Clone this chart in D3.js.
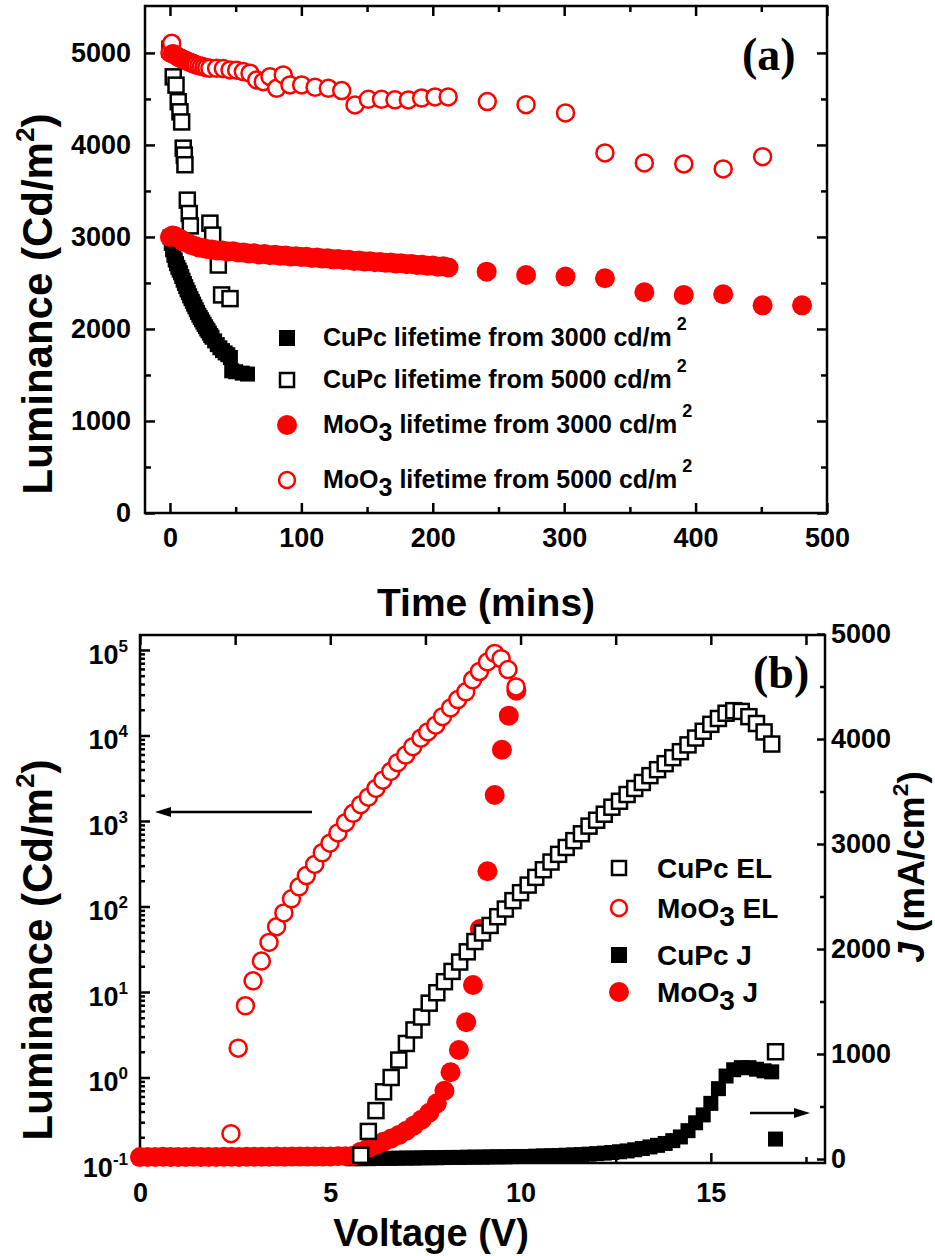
<!DOCTYPE html>
<html>
<head>
<meta charset="utf-8">
<script src="https://cdn.jsdelivr.net/npm/d3@7"></script>
<style>
    body { margin: 0; background: #fff; }
    text { font-family: "Liberation Sans", Arial, sans-serif; font-weight: bold; fill: #000; }
</style>
</head>
<body>
<svg id="chart" width="935" height="1256"></svg>
<script>
// ---------- panel (a): lifetime data ----------
let cupc3000Time = [0,1,2,3,4,5,6,7,8,9,10,11,12,13,14,15,16,17,18,19,20,21,22,23,24,25,26,27,28,29,30,31,32,34,36,38,40,42,44,46,47,50,55,59];
let cupc3000Lum  = [3000,2930,2860,2800,2750,2710,2670,2640,2610,2570,2530,2495,2460,2425,2395,2360,2330,2300,2270,2240,2210,2180,2150,2125,2100,2075,2050,2025,2000,1980,1955,1930,1910,1870,1830,1795,1765,1740,1720,1690,1545,1535,1520,1510];

let cupc5000Time = [0,1.3,2.5,4.6,6.3,7.6,8.9,10.1,10.9,11.4,13.2,14.7,15.5,30.4,32.5,36.8,39.3,45.7];
let cupc5000Lum  = [5040,5050,4740,4650,4470,4360,4250,3965,3890,3785,3400,3255,3120,3150,3020,2695,2370,2330];

let moo3000Time = [0,2,4,6,8,10,13,16,19,22,25,28,32,36,40,44,48,52,56,60,64,68,72,76,80,84,88,92,96,100,104,108,112,116,120,124,128,132,136,140,144,148,152,156,160,164,168,172,176,180,184,188,192,196,200,204,208,212,241,271,301,331,361,391,421,451,481];
let moo3000Lum  = [3000,3015,3008,2992,2976,2952,2938,2912,2903,2885,2880,2868,2865,2852,2853,2841,2846,2832,2830,2821,2824,2810,2815,2802,2806,2795,2798,2787,2790,2781,2784,2772,2776,2765,2768,2757,2760,2749,2752,2740,2744,2733,2737,2726,2729,2719,2722,2711,2714,2703,2706,2694,2698,2686,2690,2677,2681,2668,2623,2587,2569,2551,2399,2370,2377,2257,2257];

let moo5000Time = [0,1.3,2,3,4,5,6,7,8,9,10,11,12,13,14,15,16,17,18,19,20,22,24,26,28,30.4,35.5,40.6,45.7,50.7,55.8,60.9,66,71,76.1,81.2,86.2,91.3,100.2,110.4,120.5,130.7,140.8,150.9,161,171.2,181.4,191.5,201.7,211.7,241.5,271,301,331,361,391,421,451];
let moo5000Lum  = [5000,5105,4992,4985,4975,4968,4958,4950,4944,4936,4930,4924,4918,4912,4905,4900,4894,4888,4882,4877,4870,4862,4855,4848,4840,4833,4833,4830,4815,4812,4797,4779,4706,4688,4742,4616,4761,4652,4652,4627,4616,4591,4435,4496,4496,4490,4489,4510,4522,4522,4471,4438,4348,3913,3804,3793,3739,3873];

// ---------- panel (b): J-V-L data ----------
let cupcElVolt = [5.8,6.0,6.2,6.4,6.6,6.8,7.0,7.2,7.4,7.6,7.8,8.0,8.2,8.4,8.6,8.8,9.0,9.2,9.4,9.6,9.8,10.0,10.2,10.4,10.6,10.8,11.0,11.2,11.4,11.6,11.8,12.0,12.2,12.4,12.6,12.8,13.0,13.2,13.4,13.6,13.8,14.0,14.2,14.4,14.6,14.8,15.0,15.2,15.4,15.6,15.8,16.0,16.2,16.4,16.6,16.7];
let cupcElLum  = [0.123,0.234,0.41,0.68,1.0,1.6,2.5,3.6,5.1,7.4,9.8,13.2,17.4,22.4,29.5,38.9,49,60,75.9,93.3,117,145,178,219,269,331,407,490,589,708,871,1020,1200,1450,1700,2040,2400,2820,3390,3980,4680,5500,6460,7760,9330,11200,13500,15800,18200,19500,19100,16600,13800,11000,7940,2.0];

let mooElVolt = [2.39,2.58,2.77,2.97,3.19,3.39,3.59,3.78,3.98,4.18,4.37,4.59,4.79,4.99,5.2,5.4,5.6,5.8,6.0,6.2,6.38,6.59,6.77,6.98,7.17,7.38,7.56,7.77,7.95,8.16,8.35,8.56,8.74,8.92,9.13,9.32,9.49,9.67,9.88];
let mooElLum  = [0.22,2.2,6.9,13.5,23,38,58,84,123,170,230,310,425,550,725,955,1230,1550,1900,2400,3000,3800,4800,5900,7400,9300,11000,13200,16600,21000,26300,32400,44700,56000,72400,91000,79000,59000,37000];

let cupcJVolt = [5.6,5.8,6.0,6.2,6.4,6.6,6.8,7.0,7.2,7.4,7.6,7.8,8.0,8.2,8.4,8.6,8.8,9.0,9.2,9.4,9.6,9.8,10.0,10.2,10.4,10.6,10.8,11.0,11.2,11.4,11.6,11.8,12.0,12.2,12.4,12.6,12.8,13.0,13.2,13.4,13.6,13.8,14.0,14.2,14.4,14.6,14.8,15.0,15.2,15.4,15.6,15.8,16.0,16.2,16.4,16.6,16.7];
let cupcJ     = [2,4,3,5,6,6,8,9,9,11,12,12,14,15,15,17,18,18,20,21,21,23,24,24,27,29,31,33,36,39,42,46,51,56,62,69,77,88,100,115,130,148,175,210,270,345,420,530,670,790,850,870,870,855,840,830,190];

let mooJVolt = [0,0.2,0.4,0.6,0.8,1.0,1.2,1.4,1.6,1.8,2.0,2.2,2.4,2.6,2.8,3.0,3.2,3.4,3.6,3.8,4.0,4.2,4.4,4.6,4.8,5.0,5.2,5.4,5.6,5.8,6.0,6.2,6.4,6.6,6.8,7.0,7.2,7.4,7.6,7.8,8.0,8.16,8.38,8.57,8.75,8.93,9.13,9.32,9.51,9.69,9.89];
let mooJ     = [18,20,19,21,20,19,20,21,20,19,20,21,22,20,21,22,21,22,23,22,23,24,23,24,25,24,26,27,30,70,105,135,165,195,228,270,320,375,440,530,650,826,1038,1302,1657,2190,2740,3467,3898,4222,4460];

// ---------- ticks and labels ----------
let timeTicks = [0,100,200,300,400,500];
let timeMinor = [50,150,250,350,450];
let lumTicks = [0,1000,2000,3000,4000,5000];
let lumMinor = [500,1500,2500,3500,4500];
let voltTicks = [0,5,10,15];
let voltMinor = [2.5,7.5,12.5,17.5];
let logTicks = [1e-1,1e0,1e1,1e2,1e3,1e4,1e5];
let jTicks = [0,1000,2000,3000,4000,5000];
let jMinor = [500,1500,2500,3500,4500];

let legendA = [
    {pre: "CuPc", sub: "", post: " lifetime from 3000 cd/m"},
    {pre: "CuPc", sub: "", post: " lifetime from 5000 cd/m"},
    {pre: "MoO", sub: "3", post: " lifetime from 3000 cd/m"},
    {pre: "MoO", sub: "3", post: " lifetime from 5000 cd/m"}
];
let legendB = [
    {pre: "CuPc", sub: "", post: " EL"},
    {pre: "MoO", sub: "3", post: " EL"},
    {pre: "CuPc", sub: "", post: " J"},
    {pre: "MoO", sub: "3", post: " J"}
];

const RED = "#ff0000";
let plain = d3.format("d");
let svg = d3.select("#chart");
svg.append("rect").attr("width", 935).attr("height", 1256).attr("fill", "#fff");

// markers
function drawSquares(g, xs, ys, xS, yS, size, filled) {
    g.append("g").selectAll("rect")
        .data(d3.zip(xs, ys))
        .join("rect")
        .attr("x", d => xS(d[0]) - size / 2)
        .attr("y", d => yS(d[1]) - size / 2)
        .attr("width", size)
        .attr("height", size)
        .attr("fill", filled ? "#000" : "#fff")
        .attr("stroke", filled ? "none" : "#000")
        .attr("stroke-width", 2.5);
}

function drawCircles(g, xs, ys, xS, yS, r, filled) {
    g.append("g").selectAll("circle")
        .data(d3.zip(xs, ys))
        .join("circle")
        .attr("cx", d => xS(d[0]))
        .attr("cy", d => yS(d[1]))
        .attr("r", r)
        .attr("fill", filled ? RED : "#fff")
        .attr("stroke", filled ? "none" : RED)
        .attr("stroke-width", 2.5);
}

function legendMarker(g, kind, x, y) {
    if (kind === "fsq") g.append("rect").attr("x", x - 8).attr("y", y - 8).attr("width", 16).attr("height", 16).attr("fill", "#000");
    if (kind === "osq") g.append("rect").attr("x", x - 7).attr("y", y - 7).attr("width", 14).attr("height", 14)
        .attr("fill", "#fff").attr("stroke", "#000").attr("stroke-width", 2.5);
    if (kind === "fci") g.append("circle").attr("cx", x).attr("cy", y).attr("r", 10).attr("fill", RED);
    if (kind === "oci") g.append("circle").attr("cx", x).attr("cy", y).attr("r", 8).attr("fill", "#fff")
        .attr("stroke", RED).attr("stroke-width", 2.5);
}

function styleAxis(a, size) {
    a.attr("font-size", size).attr("font-family", null);
    a.select(".domain").remove();
    a.selectAll("line").attr("stroke", "#000").attr("stroke-width", 2.5);
    return a;
}

function addAxis(g, axis, tx, ty, size) {
    let a = g.append("g").attr("transform", "translate(" + tx + "," + ty + ")").call(axis);
    return styleAxis(a, size || 27);
}

function frame(g, box) {
    g.append("rect")
        .attr("x", box.left).attr("y", box.top)
        .attr("width", box.right - box.left).attr("height", box.bottom - box.top)
        .attr("fill", "none").attr("stroke", "#000").attr("stroke-width", 2.5);
}

function richText(g, x, y, size, parts, supText) {
    let t = g.append("text").attr("x", x).attr("y", y).attr("font-size", size);
    t.append("tspan").text(parts.pre);
    if (parts.sub) {
        t.append("tspan").attr("dy", 8).text(parts.sub);
        t.append("tspan").attr("dy", -8).text(parts.post);
    } else {
        t.append("tspan").text(parts.post);
    }
    if (supText) t.append("tspan").attr("dx", 5).attr("dy", -16).attr("font-size", 18).text(supText);
    return t;
}

function rotatedTitle(g, x, y, size, pre, italicPre) {
    let t = g.append("text")
        .attr("transform", "translate(" + x + "," + y + ") rotate(-90)")
        .attr("text-anchor", "middle")
        .attr("font-size", size);
    if (italicPre) t.append("tspan").attr("font-style", "italic").text(italicPre);
    t.append("tspan").text(pre);
    t.append("tspan").attr("dy", -size * 0.42).attr("font-size", size * 0.62).text("2");
    t.append("tspan").attr("dy", size * 0.42).text(")");
    return t;
}

// ================= panel (a) =================
let boxA = {left: 145, right: 827, top: 6, bottom: 513};
let xA = d3.scaleLinear().domain([-19, 500]).range([boxA.left, boxA.right]);
let yA = d3.scaleLinear().domain([0, 5510]).range([boxA.bottom, boxA.top]);
let gA = svg.append("g");

addAxis(gA, d3.axisBottom(xA).tickValues(timeTicks).tickSize(-10).tickPadding(15).tickFormat(plain), 0, boxA.bottom);
addAxis(gA, d3.axisBottom(xA).tickValues(timeMinor).tickSize(-6).tickFormat(""), 0, boxA.bottom);
addAxis(gA, d3.axisTop(xA).tickValues(timeTicks).tickSize(-10).tickFormat(""), 0, boxA.top);
addAxis(gA, d3.axisTop(xA).tickValues(timeMinor).tickSize(-6).tickFormat(""), 0, boxA.top);
addAxis(gA, d3.axisLeft(yA).tickValues(lumTicks).tickSize(-10).tickPadding(14).tickFormat(plain), boxA.left, 0);
addAxis(gA, d3.axisLeft(yA).tickValues(lumMinor).tickSize(-6).tickFormat(""), boxA.left, 0);
addAxis(gA, d3.axisRight(yA).tickValues(lumTicks).tickSize(-10).tickFormat(""), boxA.right, 0);
addAxis(gA, d3.axisRight(yA).tickValues(lumMinor).tickSize(-6).tickFormat(""), boxA.right, 0);
frame(gA, boxA);

drawSquares(gA, cupc3000Time, cupc3000Lum, xA, yA, 15, true);
drawSquares(gA, cupc5000Time, cupc5000Lum, xA, yA, 15, false);
drawCircles(gA, moo3000Time, moo3000Lum, xA, yA, 10, true);
drawCircles(gA, moo5000Time, moo5000Lum, xA, yA, 8.5, false);

let legARows = [338, 380, 425, 480];
let legAKinds = ["fsq", "osq", "fci", "oci"];
legendA.forEach((item, i) => {
    legendMarker(gA, legAKinds[i], 287, legARows[i]);
    richText(gA, 323, legARows[i] + 8, 25, item, "2");
});

gA.append("text").attr("x", 742).attr("y", 70)
    .style("font-family", "'Liberation Serif', 'Times New Roman', serif")
    .attr("font-size", 46).text("(a)");

gA.append("text").attr("x", 486).attr("y", 616).attr("text-anchor", "middle")
    .attr("font-size", 39).text("Time (mins)");
rotatedTitle(gA, 52, 304, 42, "Luminance (Cd/m");

// ================= panel (b) =================
let boxB = {left: 140, right: 825, top: 635, bottom: 1163};
let xB = d3.scaleLinear().domain([0, 18]).range([boxB.left, boxB.right]);
let yB = d3.scaleLog().domain([1e-1, Math.pow(10, 5.175)]).range([boxB.bottom, boxB.top]);
let yJ = d3.scaleLinear().domain([0, 5000]).range([1159, 634]);
let gB = svg.append("g");

let logMinor = [];
logTicks.slice(0, -1).forEach(v => {
    [2,3,4,5,6,7,8,9].forEach(k => logMinor.push(v * k));
});
logMinor.push(1e5 * 1.2, 1e5 * 1.4);
logMinor = logMinor.filter(v => v < yB.domain()[1] && v !== 1.2e5 && v !== 1.4e5);

addAxis(gB, d3.axisBottom(xB).tickValues(voltTicks).tickSize(-10).tickPadding(20).tickFormat(plain), 0, boxB.bottom);
addAxis(gB, d3.axisBottom(xB).tickValues(voltMinor).tickSize(-6).tickFormat(""), 0, boxB.bottom);
addAxis(gB, d3.axisTop(xB).tickValues(voltTicks).tickSize(-10).tickFormat(""), 0, boxB.top);
addAxis(gB, d3.axisTop(xB).tickValues(voltMinor).tickSize(-10).tickFormat(""), 0, boxB.top);
let leftB = addAxis(gB, d3.axisLeft(yB).tickValues(logTicks).tickSize(-10).tickPadding(12).tickFormat(() => ""), boxB.left, 0);
addAxis(gB, d3.axisLeft(yB).tickValues(logMinor).tickSize(-5).tickFormat(""), boxB.left, 0);
addAxis(gB, d3.axisRight(yJ).tickValues(jTicks).tickSize(-8).tickPadding(6).tickFormat(plain), boxB.right, 0);
addAxis(gB, d3.axisRight(yJ).tickValues(jMinor).tickSize(-5).tickFormat(""), boxB.right, 0);
frame(gB, boxB);

leftB.selectAll(".tick text").each(function(d) {
    let t = d3.select(this).attr("dy", "0.5em");
    t.append("tspan").text("10");
    t.append("tspan").attr("dy", -12).attr("font-size", 17).text(Math.round(Math.log10(d)));
});

drawSquares(gB, cupcJVolt, cupcJ, xB, yJ, 15, true);
drawCircles(gB, mooJVolt, mooJ, xB, yJ, 10, true);
drawSquares(gB, cupcElVolt, cupcElLum, xB, yB, 15, false);
drawCircles(gB, mooElVolt, mooElLum, xB, yB, 8.5, false);

let legBRows = [868, 908, 955, 992];
let legBKinds = ["osq", "oci", "fsq", "fci"];
legendB.forEach((item, i) => {
    legendMarker(gB, legBKinds[i], 619, legBRows[i]);
    richText(gB, 657, legBRows[i] + 10, 28, item, null);
});

// arrows pointing to each axis
function arrow(g, x1, x2, y) {
    let dir = x2 > x1 ? 1 : -1;
    g.append("line").attr("x1", x1).attr("x2", x2 - dir * 10).attr("y1", y).attr("y2", y)
        .attr("stroke", "#000").attr("stroke-width", 2.5);
    g.append("path")
        .attr("d", "M" + x2 + "," + y + " L" + (x2 - dir * 16) + "," + (y - 5) + " L" + (x2 - dir * 16) + "," + (y + 5) + " Z")
        .attr("fill", "#000");
}
arrow(gB, 312, 155, 812);
arrow(gB, 750, 810, 1113);

gB.append("text").attr("x", 753).attr("y", 688)
    .style("font-family", "'Liberation Serif', 'Times New Roman', serif")
    .attr("font-size", 46).text("(b)");

gB.append("text").attr("x", 431).attr("y", 1246).attr("text-anchor", "middle")
    .attr("font-size", 38).text("Voltage (V)");
rotatedTitle(gB, 52, 950, 42, "Luminance (Cd/m");
rotatedTitle(gB, 924, 867, 37, " (mA/cm", "J");
</script>
</body>
</html>
